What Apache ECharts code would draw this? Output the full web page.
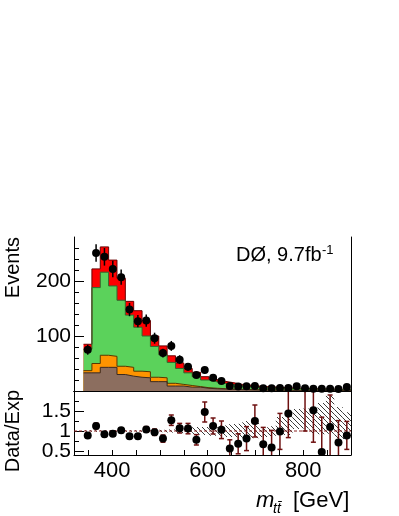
<!DOCTYPE html>
<html>
<head>
<meta charset="utf-8">
<script src="https://cdn.jsdelivr.net/npm/echarts@6/dist/echarts.min.js"></script>
<style>
html, body { margin: 0; padding: 0; background: #fff; }
#chart { width: 399px; height: 516px; }
</style>
</head>
<body>
<div id="chart"></div>
<script>
// bin edges of m_tt [GeV]
var binEdges = [340, 357.5, 375, 392.5, 410, 427.5, 445, 462.5, 480, 497.5, 515, 532.5,
  550, 567.5, 585, 602.5, 620, 637.5, 655, 672.5, 690, 707.5, 725, 742.5, 760, 777.5,
  795, 812.5, 830, 847.5, 865, 882.5, 900];

// stacked predictions, per bin contribution (bottom -> top)
var bkgBrown = [33, 33, 43, 43, 30, 27, 25, 24, 17, 17, 9, 9, 7, 7, 5, 4, 3.5, 3, 2.5, 2.2,
  1.9, 1.7, 1.5, 1.3, 1.2, 1.1, 1, 0.9, 0.8, 0.7, 0.6, 0.6];
var bkgOrange = [4, 17, 22, 20, 15, 16, 11, 11, 8, 7, 5, 3, 3, 1, 1, 1, 0.7, 0.5, 0.5, 0.4,
  0.4, 0.3, 0.3, 0.3, 0.2, 0.2, 0.2, 0.2, 0.2, 0.2, 0.2, 0.1];
var sigGreen = [39, 138, 151, 128, 120, 95, 80, 65, 56, 42, 38, 29, 23, 18, 14, 11.5, 9.3, 8,
  6.5, 5.6, 4.7, 4.2, 3.8, 3.4, 3.1, 2.8, 2.5, 2.2, 2, 1.8, 1.7, 1.6];
var sigRed = [9, 34, 46, 47, 40, 25, 30, 28, 19, 16, 12, 10, 8, 8, 6, 4.5, 4, 3.5, 2.5, 2.3,
  2, 1.8, 1.6, 1.4, 1.3, 1.1, 1, 0.9, 0.8, 0.8, 0.7, 0.7];

// data
var dataEvents = [75, 251, 244, 222, 207, 148, 127, 128, 96, 69, 82, 57, 44, 29, 38, 24, 18,
  9, 8, 8.5, 9, 5, 5, 5.5, 5.5, 8.5, 5, 4.2, 4.2, 4.2, 3.6, 7.3];
var dataErr = [9, 16, 16, 15, 14, 12, 11, 11, 10, 8, 9, 8, 7, 5, 6, 5, 4, 3, 3, 3, 3, 2, 2, 2,
  2, 3, 2, 2, 2, 2, 2, 3];

// Data/Exp (bins 26 and 27 lie above the panel)
var ratio = [0.89, 1.125, 0.92, 0.93, 1.02, 0.87, 0.87, 1.04, 0.97, 0.81, 1.27, 1.07, 1.06,
  0.78, 1.475, 1.125, 1.03, 0.56, 0.68, 0.81, 1.25, 0.67, 0.585, 0.99, 1.435, 4.0, 2.4, 1.52,
  0.475, 1.1, 0.71, 0.89];
var ratioErr = [0.06, 0.07, 0.06, 0.06, 0.06, 0.06, 0.06, 0.07, 0.08, 0.09, 0.13, 0.12, 0.13,
  0.13, 0.25, 0.2, 0.22, 0.22, 0.25, 0.3, 0.4, 0.42, 0.43, 0.45, 0.6, 1.0, 1.4, 0.8, 0.87,
  0.8, 0.55, 0.35];
// systematic band (hatched)
var systLo = [0.98, 0.98, 0.98, 0.98, 0.98, 0.98, 0.98, 0.98, 0.98, 0.97, 0.96, 0.95, 0.94,
  0.91, 0.9, 0.88, 0.88, 0.85, 0.84, 0.8, 0.82, 0.85, 0.85, 0.93, 0.9, 1.05, 1.06, 0.95, 0.92,
  0.93, 0.8, 0.8];
var systHi = [1.02, 1.02, 1.02, 1.02, 1.02, 1.02, 1.02, 1.02, 1.02, 1.03, 1.04, 1.05, 1.06,
  1.1, 1.1, 1.12, 1.14, 1.17, 1.18, 1.25, 1.22, 1.1, 1.12, 1.35, 1.38, 1.55, 1.56, 1.55, 1.7,
  1.9, 1.6, 1.47];

var xTicks = [350, 400, 450, 500, 550, 600, 650, 700, 750, 800, 850];
var xLabels = [400, 600, 800];
var yMinorTicks = [20, 40, 60, 80, 120, 140, 160, 180, 220, 240, 260];
var yMajorTicks = [100, 200];
var rMinorTicks = [0.75, 1.25, 1.75];
var rMajorTicks = [0.5, 1, 1.5];

var FONT = "'Liberation Sans', Arial, Helvetica, sans-serif";

// running sums of the stack
function addUp(a, b) {
  var out = [];
  for (var i = 0; i < a.length; i++) out.push(a[i] + b[i]);
  return out;
}
var cumBrown = bkgBrown.slice();
var cumOrange = addUp(cumBrown, bkgOrange);
var cumGreen = addUp(cumOrange, sigGreen);
var cumRed = addUp(cumGreen, sigRed);

function stepData(vals) {
  var out = [];
  for (var i = 0; i < binEdges.length; i++) {
    out.push([binEdges[i], vals[Math.min(i, vals.length - 1)]]);
  }
  return out;
}
var binCenters = [];
for (var k = 0; k < binEdges.length - 1; k++) binCenters.push((binEdges[k] + binEdges[k + 1]) / 2);

// hatch pattern for the band
var hatch = document.createElement('canvas');
hatch.width = 5; hatch.height = 5;
(function () {
  var c = hatch.getContext('2d');
  c.strokeStyle = '#3a3a3a';
  c.lineWidth = 1;
  c.beginPath();
  c.moveTo(0, 0); c.lineTo(5, 5);
  c.moveTo(-1, 4); c.lineTo(1, 6);
  c.moveTo(4, -1); c.lineTo(6, 1);
  c.stroke();
})();

var chart = echarts.init(document.getElementById('chart'));

// each layer is drawn from 0 up to its running sum, top layer first
function histLayer(name, vals, fill, edge) {
  return {
    name: name,
    type: 'line',
    xAxisIndex: 0,
    yAxisIndex: 0,
    step: 'end',
    symbol: 'none',
    silent: true,
    z: 1,
    data: stepData(vals),
    lineStyle: { color: edge, width: 1 },
    areaStyle: { color: fill, opacity: 1, origin: 'start' }
  };
}

function lineOnly(pos, gridIndex, min, max) {
  return {
    gridIndex: gridIndex, position: pos, type: 'value', min: min, max: max,
    axisLine: { show: true, lineStyle: { color: '#000', width: 1 } },
    axisTick: { show: false }, axisLabel: { show: false }, splitLine: { show: false }
  };
}

// one labelled major tick per axis, so the close labels are all kept
function ratioMajor(v) {
  return {
    gridIndex: 1, type: 'value', position: 'left', min: 0.4, max: 2,
    axisLine: { show: false },
    axisTick: { show: true, inside: true, length: 10, customValues: [v], lineStyle: { color: '#000' } },
    axisLabel: { show: true, customValues: [v], hideOverlap: false, fontSize: 21, lineHeight: 14, color: '#000', margin: 3, fontFamily: FONT },
    splitLine: { show: false }
  };
}

var dataPoints = [], dataBars = [], ratioPoints = [], ratioBars = [], band = [];
for (var i = 0; i < binCenters.length; i++) {
  dataPoints.push([binCenters[i], dataEvents[i]]);
  dataBars.push([binCenters[i], dataEvents[i] - dataErr[i], dataEvents[i] + dataErr[i]]);
  ratioPoints.push([binCenters[i], ratio[i]]);
  ratioBars.push([binCenters[i], ratio[i] - ratioErr[i], ratio[i] + ratioErr[i]]);
  band.push([binEdges[i], binEdges[i + 1], systLo[i], systHi[i]]);
}

var option = {
  animation: false,
  backgroundColor: '#fff',
  textStyle: { fontFamily: FONT },
  grid: [
    { left: 74, top: 237, width: 277, height: 154, show: false },
    { left: 74, top: 391, width: 277, height: 64, show: false }
  ],
  xAxis: [
    {
      gridIndex: 0, type: 'value', position: 'bottom', min: 320, max: 900,
      axisLine: { show: true, lineStyle: { color: '#000', width: 1 } },
      axisTick: { show: true, inside: true, length: 5, customValues: xTicks, lineStyle: { color: '#000' } },
      axisLabel: { show: false },
      splitLine: { show: false }
    },
    lineOnly('top', 0, 320, 900),
    {
      gridIndex: 1, type: 'value', position: 'bottom', min: 320, max: 900,
      axisLine: { show: true, lineStyle: { color: '#000', width: 1 } },
      axisTick: { show: true, inside: true, length: 5, customValues: xTicks, lineStyle: { color: '#000' } },
      axisLabel: { show: true, customValues: xLabels, hideOverlap: false, fontSize: 22, color: '#000', margin: 5, fontFamily: FONT },
      splitLine: { show: false }
    },
    lineOnly('top', 1, 320, 900)
  ],
  yAxis: [
    {
      gridIndex: 0, type: 'value', position: 'left', min: 0, max: 280,
      axisLine: { show: true, lineStyle: { color: '#000', width: 1 } },
      axisTick: { show: true, inside: true, length: 5, customValues: yMinorTicks, lineStyle: { color: '#000' } },
      axisLabel: { show: false },
      splitLine: { show: false }
    },
    {
      gridIndex: 0, type: 'value', position: 'left', min: 0, max: 280,
      axisLine: { show: false },
      axisTick: { show: true, inside: true, length: 10, customValues: yMajorTicks, lineStyle: { color: '#000' } },
      axisLabel: { show: true, customValues: yMajorTicks, hideOverlap: false, fontSize: 21, color: '#000', margin: 3, fontFamily: FONT },
      splitLine: { show: false }
    },
    lineOnly('right', 0, 0, 280),
    {
      gridIndex: 1, type: 'value', position: 'left', min: 0.4, max: 2,
      axisLine: { show: true, lineStyle: { color: '#000', width: 1 } },
      axisTick: { show: true, inside: true, length: 5, customValues: rMinorTicks, lineStyle: { color: '#000' } },
      axisLabel: { show: false },
      splitLine: { show: false }
    },
    ratioMajor(rMajorTicks[0]),
    ratioMajor(rMajorTicks[1]),
    ratioMajor(rMajorTicks[2]),
    lineOnly('right', 1, 0.4, 2)
  ],
  series: [
    histLayer('red', cumRed, '#ff0000', '#6a0000'),
    histLayer('green', cumGreen, '#5bd25b', '#2f6a2f'),
    histLayer('orange', cumOrange, '#ff9400', '#5a3800'),
    histLayer('brown', cumBrown, '#8c6e5f', '#3b2a20'),
    {
      type: 'custom', xAxisIndex: 0, yAxisIndex: 0, clip: true, silent: true, z: 5,
      data: dataBars,
      encode: { x: 0, y: [1, 2] },
      renderItem: function (params, api) {
        var p1 = api.coord([api.value(0), api.value(1)]);
        var p2 = api.coord([api.value(0), api.value(2)]);
        return {
          type: 'line',
          shape: { x1: p1[0], y1: p1[1], x2: p2[0], y2: p2[1] },
          style: { stroke: '#000', lineWidth: 1.5 }
        };
      }
    },
    {
      type: 'scatter', xAxisIndex: 0, yAxisIndex: 0, silent: true, z: 6,
      symbol: 'circle', symbolSize: 8,
      itemStyle: { color: '#000', opacity: 1 },
      data: dataPoints
    },
    {
      type: 'custom', xAxisIndex: 2, yAxisIndex: 3, clip: true, silent: true, z: 2,
      data: band,
      encode: { x: [0, 1], y: [2, 3] },
      renderItem: function (params, api) {
        var a = api.coord([api.value(0), api.value(3)]);
        var b = api.coord([api.value(1), api.value(2)]);
        return {
          type: 'rect',
          shape: { x: a[0], y: a[1], width: b[0] - a[0], height: b[1] - a[1] },
          style: { fill: { image: hatch, repeat: 'repeat' }, stroke: null }
        };
      }
    },
    {
      type: 'line', xAxisIndex: 2, yAxisIndex: 3, silent: true, symbol: 'none', z: 3,
      data: [[320, 1], [900, 1]],
      lineStyle: { color: '#8b2323', width: 1, type: [3, 2] }
    },
    {
      type: 'custom', xAxisIndex: 2, yAxisIndex: 3, clip: true, silent: true, z: 5,
      data: ratioBars,
      encode: { x: 0, y: [1, 2] },
      renderItem: function (params, api) {
        var x = api.value(0);
        var p1 = api.coord([x, api.value(1)]);
        var p2 = api.coord([x, api.value(2)]);
        var st = { stroke: '#6e1010', lineWidth: 1.5 };
        return {
          type: 'group',
          children: [
            { type: 'line', shape: { x1: p1[0], y1: p1[1], x2: p2[0], y2: p2[1] }, style: st },
            { type: 'line', shape: { x1: p1[0] - 2.5, y1: p1[1], x2: p1[0] + 2.5, y2: p1[1] }, style: st },
            { type: 'line', shape: { x1: p2[0] - 2.5, y1: p2[1], x2: p2[0] + 2.5, y2: p2[1] }, style: st }
          ]
        };
      }
    },
    {
      type: 'scatter', xAxisIndex: 2, yAxisIndex: 3, silent: true, z: 6,
      symbol: 'circle', symbolSize: 8,
      itemStyle: { color: '#000', opacity: 1 },
      data: ratioPoints
    }
  ],
  graphic: [
    {
      type: 'text', x: 13, y: 237, rotation: Math.PI / 2,
      style: { text: 'Events', fontSize: 20, fontFamily: FONT, fill: '#000', align: 'right', verticalAlign: 'middle' }
    },
    {
      type: 'text', x: 13, y: 390, rotation: Math.PI / 2,
      style: { text: 'Data/Exp', fontSize: 20, fontFamily: FONT, fill: '#000', align: 'right', verticalAlign: 'middle' }
    },
    {
      type: 'text', x: 236, y: 255,
      style: { text: 'D\u00d8, 9.7fb', fontSize: 20, fontFamily: FONT, fill: '#000', align: 'left', verticalAlign: 'middle' }
    },
    {
      type: 'text', x: 322, y: 250,
      style: { text: '-1', fontSize: 13, fontFamily: FONT, fill: '#000', align: 'left', verticalAlign: 'middle' }
    },
    {
      type: 'text', x: 256, y: 501,
      style: { text: 'm', fontSize: 22, fontStyle: 'italic', fontFamily: FONT, fill: '#000', align: 'left', verticalAlign: 'middle' }
    },
    {
      type: 'text', x: 273, y: 509,
      style: { text: 'tt\u0304', fontSize: 14, fontStyle: 'italic', fontFamily: FONT, fill: '#000', align: 'left', verticalAlign: 'middle' }
    },
    {
      type: 'text', x: 293, y: 501,
      style: { text: '[GeV]', fontSize: 22, fontFamily: FONT, fill: '#000', align: 'left', verticalAlign: 'middle' }
    }
  ]
};
chart.setOption(option);
</script>
</body>
</html>
